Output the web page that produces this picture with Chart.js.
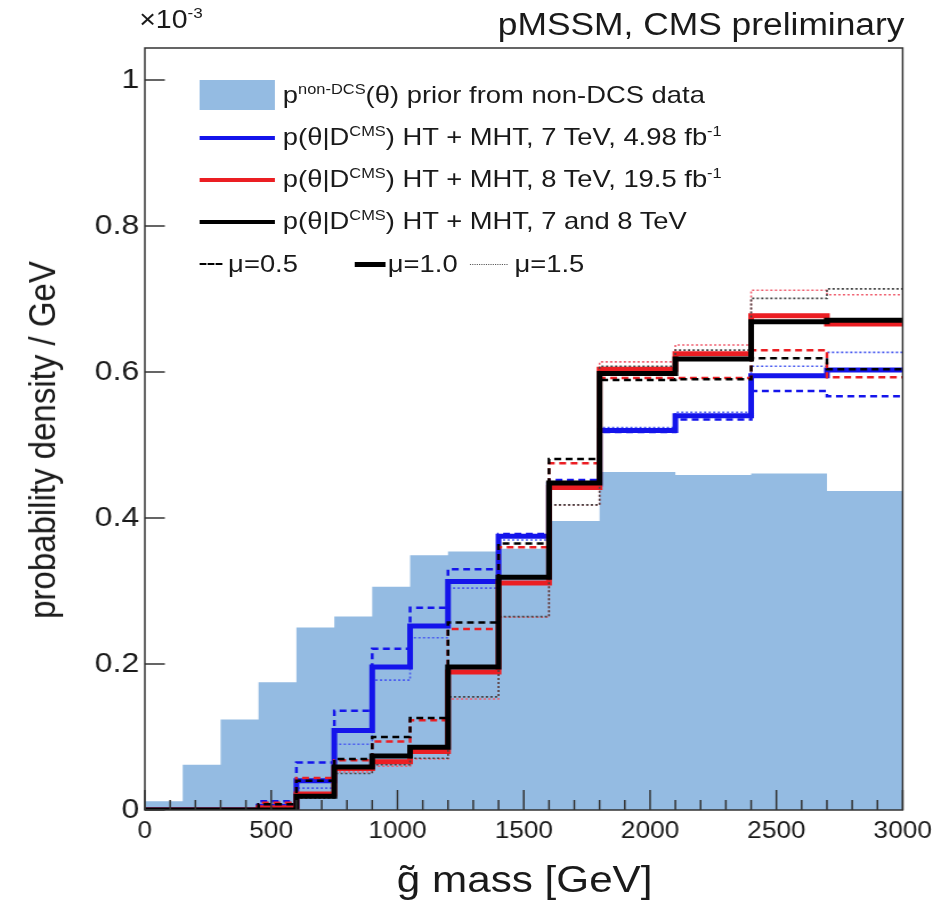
<!DOCTYPE html>
<html><head><meta charset="utf-8">
<script src="https://cdn.jsdelivr.net/npm/chart.js@4.4.1/dist/chart.umd.min.js"></script>
<style>
html,body{margin:0;padding:0;background:#fff;overflow:hidden;width:941px;height:907px;}
#wrap{position:absolute;left:0;top:0;width:825px;height:907px;transform:scaleX(1.1406);transform-origin:0 0;font-family:"Liberation Sans",Arial,Helvetica,sans-serif;color:#1a1a1a;}
#c{position:absolute;left:0;top:0;}
.t{position:absolute;white-space:nowrap;line-height:1;}
.t sup{font-size:0.6em;vertical-align:0.65em;line-height:0;}
.leg{font-size:24px;left:248px;}
.ln{position:absolute;left:175px;width:66px;height:0;}
</style></head>
<body>
<div id="wrap">
<canvas id="c" width="825" height="907" style="width:825px;height:907px;"></canvas>
<div class="t" style="left:122px;top:7px;font-size:25px;">×10<sup>-3</sup></div>
<div class="t" style="right:32px;top:9px;font-size:31px;">pMSSM, CMS preliminary</div>
<div class="t" style="left:37px;top:440px;font-size:33px;transform:translate(-50%,-50%) rotate(-90deg);">probability density / GeV</div>
<div class="t" style="left:460px;top:861px;font-size:37px;transform:translateX(-50%);">g̃ mass [GeV]</div>

<div style="position:absolute;left:175px;top:80px;width:66px;height:30px;background:#94bbe2;"></div>
<div class="t leg" style="top:83px;">p<sup>non-DCS</sup>(θ) prior from non-DCS data</div>
<div class="ln" style="top:136px;border-top:4px solid #1414eb;"></div>
<div class="t leg" style="top:125px;">p(θ|D<sup>CMS</sup>) HT + MHT, 7 TeV, 4.98 fb<sup>-1</sup></div>
<div class="ln" style="top:178px;border-top:4px solid #eb1e23;"></div>
<div class="t leg" style="top:167px;">p(θ|D<sup>CMS</sup>) HT + MHT, 8 TeV, 19.5 fb<sup>-1</sup></div>
<div class="ln" style="top:220px;border-top:4px solid #000;"></div>
<div class="t leg" style="top:209px;">p(θ|D<sup>CMS</sup>) HT + MHT, 7 and 8 TeV</div>
<div class="ln" style="top:263px;left:175px;width:20px;border-top:2.5px dashed #000;"></div>
<div class="t leg" style="top:252px;left:200px;">μ=0.5</div>
<div class="ln" style="top:262px;left:311px;width:27px;border-top:5px solid #000;"></div>
<div class="t leg" style="top:252px;left:340px;">μ=1.0</div>
<div class="ln" style="top:264px;left:412px;width:33px;border-top:1.5px dotted #555;"></div>
<div class="t leg" style="top:252px;left:451px;">μ=1.5</div>
</div>
<script>
const binEdges = [0,150,300,450,600,750,900,1050,1200,1400,1600,1800,2100,2400,2700,3000];
const priorNonDCS   = [0.012,0.062,0.124,0.175,0.250,0.265,0.306,0.349,0.354,0.358,0.396,0.463,0.459,0.461,0.437];
const blue7TeV_mu05 = [0,0,0,0.012,0.065,0.136,0.221,0.277,0.330,0.378,0.452,0.518,0.535,0.574,0.567];
const blue7TeV_mu10 = [0,0,0,0.005,0.040,0.109,0.196,0.252,0.313,0.375,0.446,0.520,0.540,0.595,0.603];
const blue7TeV_mu15 = [0,0,0,0.006,0.030,0.090,0.178,0.236,0.304,0.370,0.440,0.524,0.545,0.608,0.627];
const red8TeV_mu05  = [0,0,0,0.010,0.044,0.068,0.094,0.123,0.248,0.360,0.475,0.592,0.592,0.630,0.593];
const red8TeV_mu10  = [0,0,0,0.003,0.022,0.057,0.066,0.080,0.189,0.311,0.442,0.604,0.625,0.677,0.666];
const red8TeV_mu15  = [0,0,0,0.004,0.020,0.052,0.060,0.070,0.152,0.264,0.418,0.614,0.637,0.712,0.706];
const comb_mu05     = [0,0,0,0.008,0.040,0.070,0.100,0.126,0.257,0.365,0.481,0.589,0.590,0.619,0.604];
const comb_mu10     = [0,0,0,0,0.019,0.059,0.074,0.086,0.196,0.319,0.448,0.598,0.618,0.669,0.671];
const comb_mu15     = [0,0,0,0.002,0.016,0.050,0.062,0.071,0.155,0.265,0.418,0.608,0.630,0.701,0.714];
const xTicks = [0,500,1000,1500,2000,2500,3000];
const yTicks = [0,0.2,0.4,0.6,0.8,1];
const xMinorStep = 100;

function hist(vals){
  const pts = vals.map((v,i)=>({x:binEdges[i], y:v}));
  pts.push({x:binEdges[binEdges.length-1], y:vals[vals.length-1]});
  return pts;
}
const BLUE='#1414eb', RED='#eb1e23', BLACK='#000';
function ds(label, vals, color, kind, order){
  const o = {label, data:hist(vals), borderColor:color, backgroundColor:'transparent', stepped:true, pointRadius:0, fill:false, order};
  if(kind==='solid'){o.borderWidth=5;}
  else if(kind==='dash'){o.borderWidth=2.5;o.borderDash=[6,4];}
  else {o.borderWidth=1.6;o.borderDash=[2,2];}
  return o;
}
const frameTicks = {
  id:'frameTicks',
  afterDatasetsDraw(chart){
    const {ctx, chartArea:a, scales:{x,y}} = chart;
    ctx.save();
    ctx.strokeStyle='#333'; ctx.lineWidth=1.5;
    ctx.beginPath();
    for(let v=x.min; v<=x.max; v+=xMinorStep){
      const px=x.getPixelForValue(v);
      const len = xTicks.includes(v)?20:10;
      ctx.moveTo(px,a.bottom); ctx.lineTo(px,a.bottom-len);
    }
    yTicks.forEach(v=>{const py=y.getPixelForValue(v); ctx.moveTo(a.left,py); ctx.lineTo(a.left+17.5,py);});
    ctx.stroke();
    ctx.strokeRect(a.left,a.top,a.right-a.left,a.bottom-a.top);
    ctx.restore();
  }
};
new Chart(document.getElementById('c'),{
  type:'line',
  data:{datasets:[
    {label:'prior', data:hist(priorNonDCS), borderWidth:0, borderColor:'rgba(0,0,0,0)', backgroundColor:'#94bbe2', fill:'origin', stepped:true, pointRadius:0, order:20},
    ds('blue mu1.5', blue7TeV_mu15, '#4a5cf0', 'dot', 12),
    ds('blue mu0.5', blue7TeV_mu05, BLUE, 'dash', 11),
    ds('blue mu1.0', blue7TeV_mu10, BLUE, 'solid', 10),
    ds('red mu1.5', red8TeV_mu15, '#f06070', 'dot', 9),
    ds('red mu0.5', red8TeV_mu05, RED, 'dash', 8),
    ds('red mu1.0', red8TeV_mu10, RED, 'solid', 7),
    ds('comb mu1.5', comb_mu15, '#444', 'dot', 6),
    ds('comb mu0.5', comb_mu05, BLACK, 'dash', 5),
    ds('comb mu1.0', comb_mu10, BLACK, 'solid', 4)
  ]},
  options:{
    responsive:false, animation:false, devicePixelRatio:1,
    layout:{padding:{top:48,right:31,left:0,bottom:0}},
    plugins:{legend:{display:false},tooltip:{enabled:false}},
    scales:{
      x:{type:'linear',min:0,max:3000,
        afterBuildTicks:s=>{s.ticks=xTicks.map(v=>({value:v}));},
        afterFit:s=>{s.height=97;},
        grid:{display:false,drawTicks:false},border:{display:false},
        ticks:{font:{family:'"Liberation Sans", Arial',size:23},color:'#1a1a1a',padding:8,maxRotation:0,autoSkip:false,callback:v=>String(v)}},
      y:{type:'linear',min:0,max:1.044,
        afterBuildTicks:s=>{s.ticks=yTicks.map(v=>({value:v}));},
        afterFit:s=>{s.width=127;},
        grid:{display:false,drawTicks:false},border:{display:false},
        ticks:{font:{family:'"Liberation Sans", Arial',size:28},color:'#1a1a1a',padding:5,callback:v=>String(v)}}
    }
  },
  plugins:[frameTicks]
});
</script>
</body></html>
